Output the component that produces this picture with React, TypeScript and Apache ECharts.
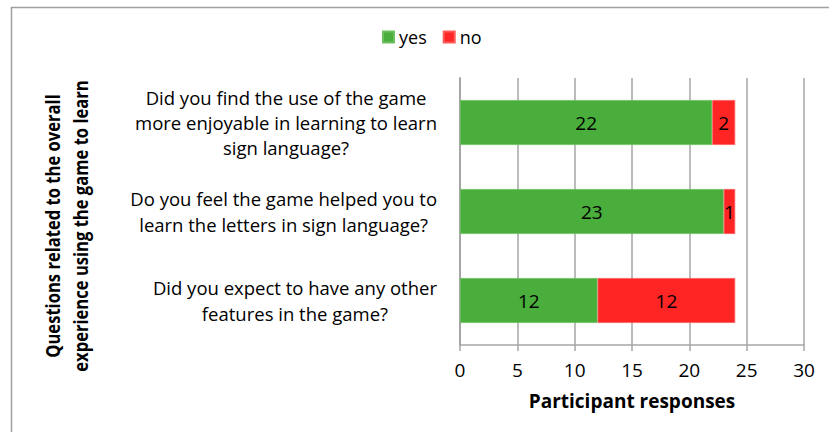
import React, { useEffect, useRef } from "react";
import * as echarts from "echarts";

const categories = [
  "Did you find the use of the game\nmore enjoyable in learning to learn\nsign language?",
  "Do you feel the game helped you to\nlearn the letters in sign language?",
  "Did you expect to have any other\nfeatures in the game?",
];
const yesValues = [22, 23, 12];
const noValues = [2, 1, 12];
const xTicks = { min: 0, max: 30, interval: 5 };
const yTitle = "Questions related to the overall\nexperience using the game to learn";
const xTitle = "Participant responses";

const FONT = "'Open Sans', 'DejaVu Sans', sans-serif";
const GREEN = "#4aae3c";
const RED = "#ff2525";
const GRID = "#a6a6a6";

export default function App() {
  const ref = useRef<HTMLDivElement>(null);
  useEffect(() => {
    if (!ref.current) return;
    const chart = echarts.init(ref.current, null, { renderer: "svg" });
    const valueLabel = {
      show: true,
      position: "inside",
      color: "#000",
      fontSize: 19,
      fontFamily: FONT,
    };
    chart.setOption({
      animation: false,
      backgroundColor: "#fff",
      textStyle: { fontFamily: FONT },
      graphic: [
        {
          type: "rect",
          shape: { x: 11.5, y: 7.5, width: 900, height: 500 },
          style: { fill: "none", stroke: "#a0a0a0", lineWidth: 1.5 },
          silent: true,
        },
        {
          type: "text",
          x: 66,
          y: 226,
          rotation: Math.PI / 2,
          scaleX: 0.83,
          silent: true,
          style: {
            text: yTitle,
            align: "center",
            verticalAlign: "middle",
            fontSize: 20,
            lineHeight: 28,
            fontWeight: "bold",
            fontFamily: FONT,
            fill: "#000",
          },
        },
      ],
      legend: {
        top: 23,
        left: 377,
        icon: "rect",
        itemWidth: 11,
        itemHeight: 11,
        itemGap: 16,
        textStyle: { fontSize: 18, color: "#000", fontFamily: FONT },
        data: ["yes", "no"],
      },
      grid: { left: 460, right: 25, top: 78, bottom: 87, containLabel: false },
      xAxis: {
        type: "value",
        min: xTicks.min,
        max: xTicks.max,
        interval: xTicks.interval,
        name: xTitle,
        nameLocation: "middle",
        nameGap: 46,
        nameTextStyle: { fontSize: 19, fontWeight: "bold", color: "#000", fontFamily: FONT },
        axisLine: { show: true, lineStyle: { color: GRID, width: 1.5 } },
        axisTick: { show: true, length: 6, lineStyle: { color: GRID, width: 1.5 } },
        axisLabel: { fontSize: 19, color: "#000", margin: 15, fontFamily: FONT },
        splitLine: { show: true, lineStyle: { color: GRID, width: 1.5 } },
      },
      yAxis: {
        type: "category",
        inverse: true,
        data: categories,
        axisLine: { show: true, lineStyle: { color: GRID, width: 2 } },
        axisTick: { show: false },
        axisLabel: {
          margin: 23,
          formatter: (v: string) =>
            v
              .split("\n")
              .map((l) => `{c|${l}}`)
              .join("\n"),
          rich: {
            c: {
              align: "center",
              fontSize: 18.5,
              lineHeight: 25.3,
              color: "#000",
              fontFamily: FONT,
            },
          },
        },
      },
      series: [
        {
          name: "yes",
          type: "bar",
          stack: "total",
          barWidth: 45,
          data: yesValues,
          itemStyle: { color: GREEN, borderColor: "#6cc060", borderWidth: 0.8 },
          label: valueLabel,
        },
        {
          name: "no",
          type: "bar",
          stack: "total",
          barWidth: 45,
          data: noValues,
          itemStyle: { color: RED, borderColor: "#ff5a5a", borderWidth: 0.8 },
          label: valueLabel,
        },
      ],
    });
    return () => chart.dispose();
  }, []);
  return (
    <div
      ref={ref}
      style={{ position: "absolute", left: 0, top: 0, width: 829, height: 432 }}
    />
  );
}
